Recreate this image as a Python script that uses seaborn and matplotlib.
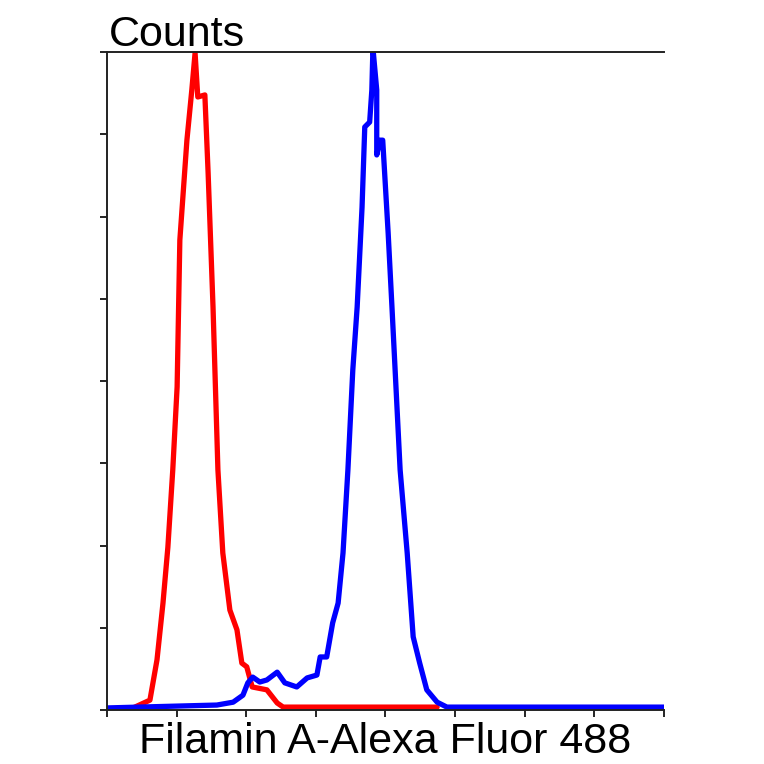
import numpy as np
import pandas as pd
import matplotlib
matplotlib.use("Agg")
import matplotlib.pyplot as plt
import seaborn as sns

# -------------------------------
# Histogram traces (channel, counts)
# -------------------------------
red_x = [48, 79, 92, 103, 112, 121, 129, 134, 147, 156, 162, 167, 180, 186,
         195, 204, 213, 226, 239, 248, 257, 267, 294, 313, 324, 607]
red_y = [0.5, 2.4, 12.2, 26.0, 39.6, 58.4, 78.6, 114.3, 138.6, 150.8, 159.8,
         149.1, 149.6, 130.6, 98.0, 58.4, 38.2, 24.3, 19.5, 11.4, 10.5, 5.6,
         4.9, 1.7, 0.7, 0.7]

blue_x = [0, 202, 232, 250, 259, 268, 281, 294, 313, 327, 349, 368, 386, 392,
          404, 415, 425, 434, 443, 452, 460, 469, 474, 483, 487, 489, 496, 496,
          502, 507, 517, 524, 539, 552, 563, 575, 588, 607, 625, 1024]
blue_y = [0.5, 1.2, 1.9, 3.6, 6.6, 8.0, 6.8, 7.3, 9.2, 6.6, 5.6, 7.8, 8.5,
          12.9, 12.9, 21.2, 26.0, 38.2, 58.4, 82.7, 98.0, 122.3, 141.8, 143.0,
          150.8, 161.0, 150.8, 135.0, 138.6, 138.6, 116.0, 98.0, 58.4, 38.2,
          17.8, 11.4, 4.9, 1.9, 0.7, 0.7]

x_ticks = np.arange(0, 1025, 128)
y_ticks = np.arange(0, 161, 20)

red_df = pd.DataFrame({"channel": red_x, "counts": red_y})
blue_df = pd.DataFrame({"channel": blue_x, "counts": blue_y})

# -------------------------------
# Plot
# -------------------------------
sns.set_style("ticks")
plt.rcParams["font.family"] = ["Liberation Sans", "DejaVu Sans"]
plt.rcParams["text.color"] = "black"

fig = plt.figure(figsize=(7.64, 7.64), dpi=100)
ax = fig.add_axes([0.140, 0.0707, 0.729, 0.861])

sns.lineplot(data=red_df, x="channel", y="counts", color="#ff0000",
             linewidth=3.8, estimator=None, sort=False, ax=ax)
sns.lineplot(data=blue_df, x="channel", y="counts", color="#0000ff",
             linewidth=3.8, estimator=None, sort=False, ax=ax)

ax.set_xlim(0, 1024)
ax.set_ylim(0, 160)
ax.set_xticks(x_ticks)
ax.set_yticks(y_ticks)
ax.set_xticklabels([])
ax.set_yticklabels([])
ax.tick_params(direction="out", length=5, width=1.2, color="black")

ax.spines["right"].set_visible(False)
for side in ["top", "left", "bottom"]:
    ax.spines[side].set_linewidth(1.4)
    ax.spines[side].set_color("#222222")

ax.set_ylabel("")
ax.set_xlabel("Filamin A-Alexa Fluor 488", fontsize=31, labelpad=0,
              color="black")
ax.text(0.003, 1.01, "Counts", transform=ax.transAxes, fontsize=31,
        ha="left", va="baseline", color="black")

fig.savefig("out.png", dpi=100)
